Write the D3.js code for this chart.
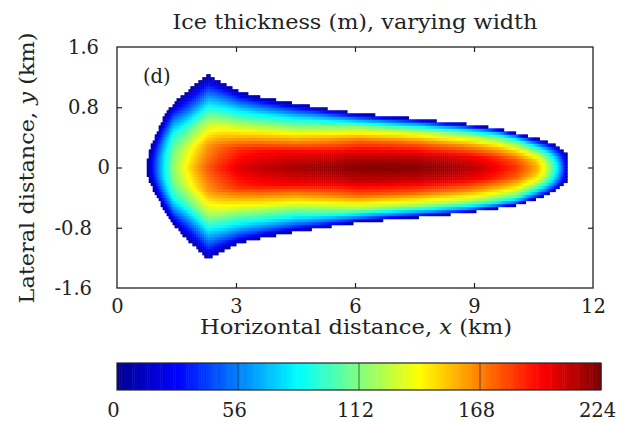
<!DOCTYPE html>
<html>
<head>
<meta charset="utf-8">
<script src="https://cdn.jsdelivr.net/npm/d3@7"></script>
<style>
  body { margin: 0; background: #fff; }
  svg { display: block; }
  text { font-family: "DejaVu Serif", serif; fill: #222; }
</style>
</head>
<body>
<svg id="chart" width="619" height="422"></svg>
<script>
const colX = [0.77, 0.85, 1.0, 1.2, 1.42, 1.75, 2.0, 2.3, 2.6, 3.1, 3.6, 4.5, 5.4, 6.1,
              6.9, 7.6, 8.2, 8.8, 9.2, 9.6, 10.07, 10.57, 10.8, 11.0, 11.15, 11.25, 11.33];
// lateral margins (km)
const edgeUpper = [0.10, 0.28, 0.47, 0.69, 0.85, 1.01, 1.11, 1.23, 1.14, 1.01, 0.94, 0.85, 0.77, 0.72,
                   0.68, 0.65, 0.61, 0.58, 0.55, 0.52, 0.46, 0.39, 0.35, 0.31, 0.27, 0.23, 0.19];
const edgeLower = [-0.10, -0.22, -0.38, -0.58, -0.75, -0.95, -1.07, -1.22, -1.12, -1.00, -0.94, -0.85, -0.78, -0.73,
                   -0.69, -0.66, -0.63, -0.60, -0.57, -0.54, -0.50, -0.42, -0.37, -0.32, -0.27, -0.23, -0.19];
// thickness (m) across each column, at fractions 0, 1/4, 1/2, 3/4, 9/10 and 1 of the half-width
const hCentre   = [8, 22, 50, 84, 116, 142, 160, 178, 189, 203, 210, 217, 221, 224, 224, 223, 220, 214, 208, 198, 186, 160, 135, 100, 70, 42, 16];
const hQuarter  = [7, 20, 48, 80, 110, 130, 146, 163, 174, 187, 193, 198, 203, 207, 208, 207, 205, 200, 195, 187, 175, 150, 126, 94, 65, 40, 15];
const hHalf     = [6, 16, 40, 64, 92, 100, 110, 122, 131, 138, 143, 148, 162, 174, 175, 174, 171, 167, 162, 156, 146, 124, 104, 78, 54, 33, 12];
const hThreeQ   = [5, 10, 24, 38, 54, 50, 55, 64, 72, 80, 84, 88, 104, 117, 120, 121, 121, 120, 118, 113, 105, 76, 63, 48, 34, 21, 9];
const hNineTen  = [4, 6, 12, 18, 26, 22, 26, 30, 35, 40, 42, 44, 50, 56, 58, 60, 62, 64, 66, 64, 58, 38, 32, 26, 18, 12, 6];
const hEdge     = [2, 2, 3, 3, 3, 3, 3, 3, 4, 4, 4, 4, 5, 5, 5, 5, 5, 5, 5, 5, 5, 4, 4, 4, 3, 3, 2];
const profileS  = [0, 0.25, 0.5, 0.75, 0.9, 1];

const xTicks = [0, 3, 6, 9, 12];
const yTicks = [-1.6, -0.8, 0, 0.8, 1.6];
const cbTicks = [0, 56, 112, 168, 224];
const jetStops = [0, 0.125, 0.375, 0.625, 0.875, 1];
const jetColours = ["#00008f", "#0000ff", "#00ffff", "#ffff00", "#ff0000", "#800000"];

const svg = d3.select("#chart");
const fontSize = 19.5;
const plotLeft = 117, plotRight = 593, plotTop = 47, plotBottom = 288;

const x = d3.scaleLinear().domain([0, 12]).range([plotLeft, plotRight]);
const y = d3.scaleLinear().domain([-1.6, 1.6]).range([plotBottom, plotTop]);
const colour = d3.scaleLinear()
  .domain(jetStops.map(d => d * 224))
  .range(jetColours)
  .clamp(true);

function atColumn(arr, xv) {
  const i = Math.min(Math.max(d3.bisectRight(colX, xv), 1), colX.length - 1);
  const t = (xv - colX[i - 1]) / (colX[i] - colX[i - 1]);
  return arr[i - 1] + t * (arr[i] - arr[i - 1]);
}

// grid cells
const dx = 0.05, dy = 0.04;
const cells = [];
d3.range(0.75, 11.35, dx).forEach(x0 => {
  const xc = x0 + dx / 2;
  if (xc < colX[0] || xc > colX[colX.length - 1]) return;
  const up = atColumn(edgeUpper, xc), lo = atColumn(edgeLower, xc);
  const prof = d3.scaleLinear().domain(profileS)
    .range([hCentre, hQuarter, hHalf, hThreeQ, hNineTen, hEdge].map(a => atColumn(a, xc)))
    .clamp(true);
  d3.range(-1.28, 1.28, dy).forEach(y0 => {
    const yc = y0 + dy / 2;
    if (yc > up || yc < lo) return;
    const s = yc >= 0 ? yc / up : yc / lo;
    cells.push({ x0, y0, h: prof(s) });
  });
});

svg.append("g")
  .selectAll("rect")
  .data(cells)
  .join("rect")
  .attr("x", d => x(d.x0))
  .attr("y", d => y(d.y0 + dy))
  .attr("width", x(dx) - x(0) + 0.5)
  .attr("height", y(0) - y(dy) + 0.5)
  .attr("fill", d => colour(d.h));

// frame and ticks
const axisStyle = g => {
  g.select(".domain").remove();
  g.selectAll(".tick line").attr("stroke", "#222").attr("stroke-width", 1.2);
  g.selectAll("text").style("font-size", fontSize + "px").attr("fill", "#222");
};

svg.append("g")
  .attr("transform", `translate(0,${plotBottom})`)
  .call(d3.axisBottom(x).tickValues(xTicks).tickSize(-5).tickPadding(11).tickFormat(d3.format("d")))
  .call(axisStyle)
  .call(g => g.selectAll(".tick").filter(d => d === 0 || d === 12).select("line").remove());

svg.append("g")
  .attr("transform", `translate(0,${plotTop})`)
  .call(d3.axisTop(x).tickValues([3, 6, 9]).tickSize(-5).tickFormat(""))
  .call(axisStyle);

svg.append("g")
  .attr("transform", `translate(${plotLeft},0)`)
  .call(d3.axisLeft(y).tickValues(yTicks).tickSize(-5).tickFormat(d => d === 0 ? "0" : d3.format(".1f")(d).replace("−", "-")))
  .call(axisStyle)
  .call(g => g.selectAll(".tick").filter(d => Math.abs(d) === 1.6).select("line").remove())
  .call(g => g.selectAll("text").attr("x", d => d < 0 ? -25 : d === 0 ? -7 : -18));

svg.append("g")
  .attr("transform", `translate(${plotRight},0)`)
  .call(d3.axisRight(y).tickValues([-0.8, 0, 0.8]).tickSize(-5).tickFormat(""))
  .call(axisStyle);

svg.append("rect")
  .attr("x", plotLeft).attr("y", plotTop)
  .attr("width", plotRight - plotLeft).attr("height", plotBottom - plotTop)
  .attr("fill", "none").attr("stroke", "#222").attr("stroke-width", 1.3);

// titles
svg.append("text")
  .attr("x", (plotLeft + plotRight) / 2).attr("y", 29)
  .attr("text-anchor", "middle")
  .style("font-size", fontSize + "px")
  .attr("textLength", 365).attr("lengthAdjust", "spacingAndGlyphs")
  .text("Ice thickness (m), varying width");

const xLab = svg.append("text")
  .attr("x", 356).attr("y", 334)
  .attr("text-anchor", "middle")
  .style("font-size", fontSize + "px")
  .attr("textLength", 312).attr("lengthAdjust", "spacingAndGlyphs");
xLab.append("tspan").text("Horizontal distance, ");
xLab.append("tspan").style("font-style", "italic").text("x");
xLab.append("tspan").text(" (km)");

const yLab = svg.append("text")
  .attr("transform", "translate(34,168) rotate(-90)")
  .attr("text-anchor", "middle")
  .style("font-size", fontSize + "px")
  .attr("textLength", 271).attr("lengthAdjust", "spacingAndGlyphs");
yLab.append("tspan").text("Lateral distance, ");
yLab.append("tspan").style("font-style", "italic").text("y");
yLab.append("tspan").text(" (km)");

svg.append("text")
  .attr("x", 143).attr("y", 83)
  .style("font-size", fontSize + "px")
  .text("(d)");

// colour bar
const cbTop = 363, cbBottom = 390;
const cb = d3.scaleLinear().domain([0, 224]).range([117, 601]);
svg.append("g")
  .selectAll("rect")
  .data(d3.range(0, 224, 1))
  .join("rect")
  .attr("x", d => cb(d))
  .attr("y", cbTop)
  .attr("width", cb(1) - cb(0) + 0.5)
  .attr("height", cbBottom - cbTop)
  .attr("fill", d => colour(d + 0.5));

svg.append("g")
  .selectAll("line")
  .data(cbTicks.slice(1, -1))
  .join("line")
  .attr("x1", d => cb(d)).attr("x2", d => cb(d))
  .attr("y1", cbTop).attr("y2", cbBottom)
  .attr("stroke", "#222").attr("stroke-width", 0.9).attr("opacity", 0.75);

svg.append("rect")
  .attr("x", cb(0)).attr("y", cbTop)
  .attr("width", cb(224) - cb(0)).attr("height", cbBottom - cbTop)
  .attr("fill", "none").attr("stroke", "#222").attr("stroke-width", 1.2);

svg.append("g")
  .attr("transform", `translate(-4,${cbBottom})`)
  .call(d3.axisBottom(cb).tickValues(cbTicks).tickSize(0).tickPadding(13))
  .call(axisStyle);
</script>
</body>
</html>
